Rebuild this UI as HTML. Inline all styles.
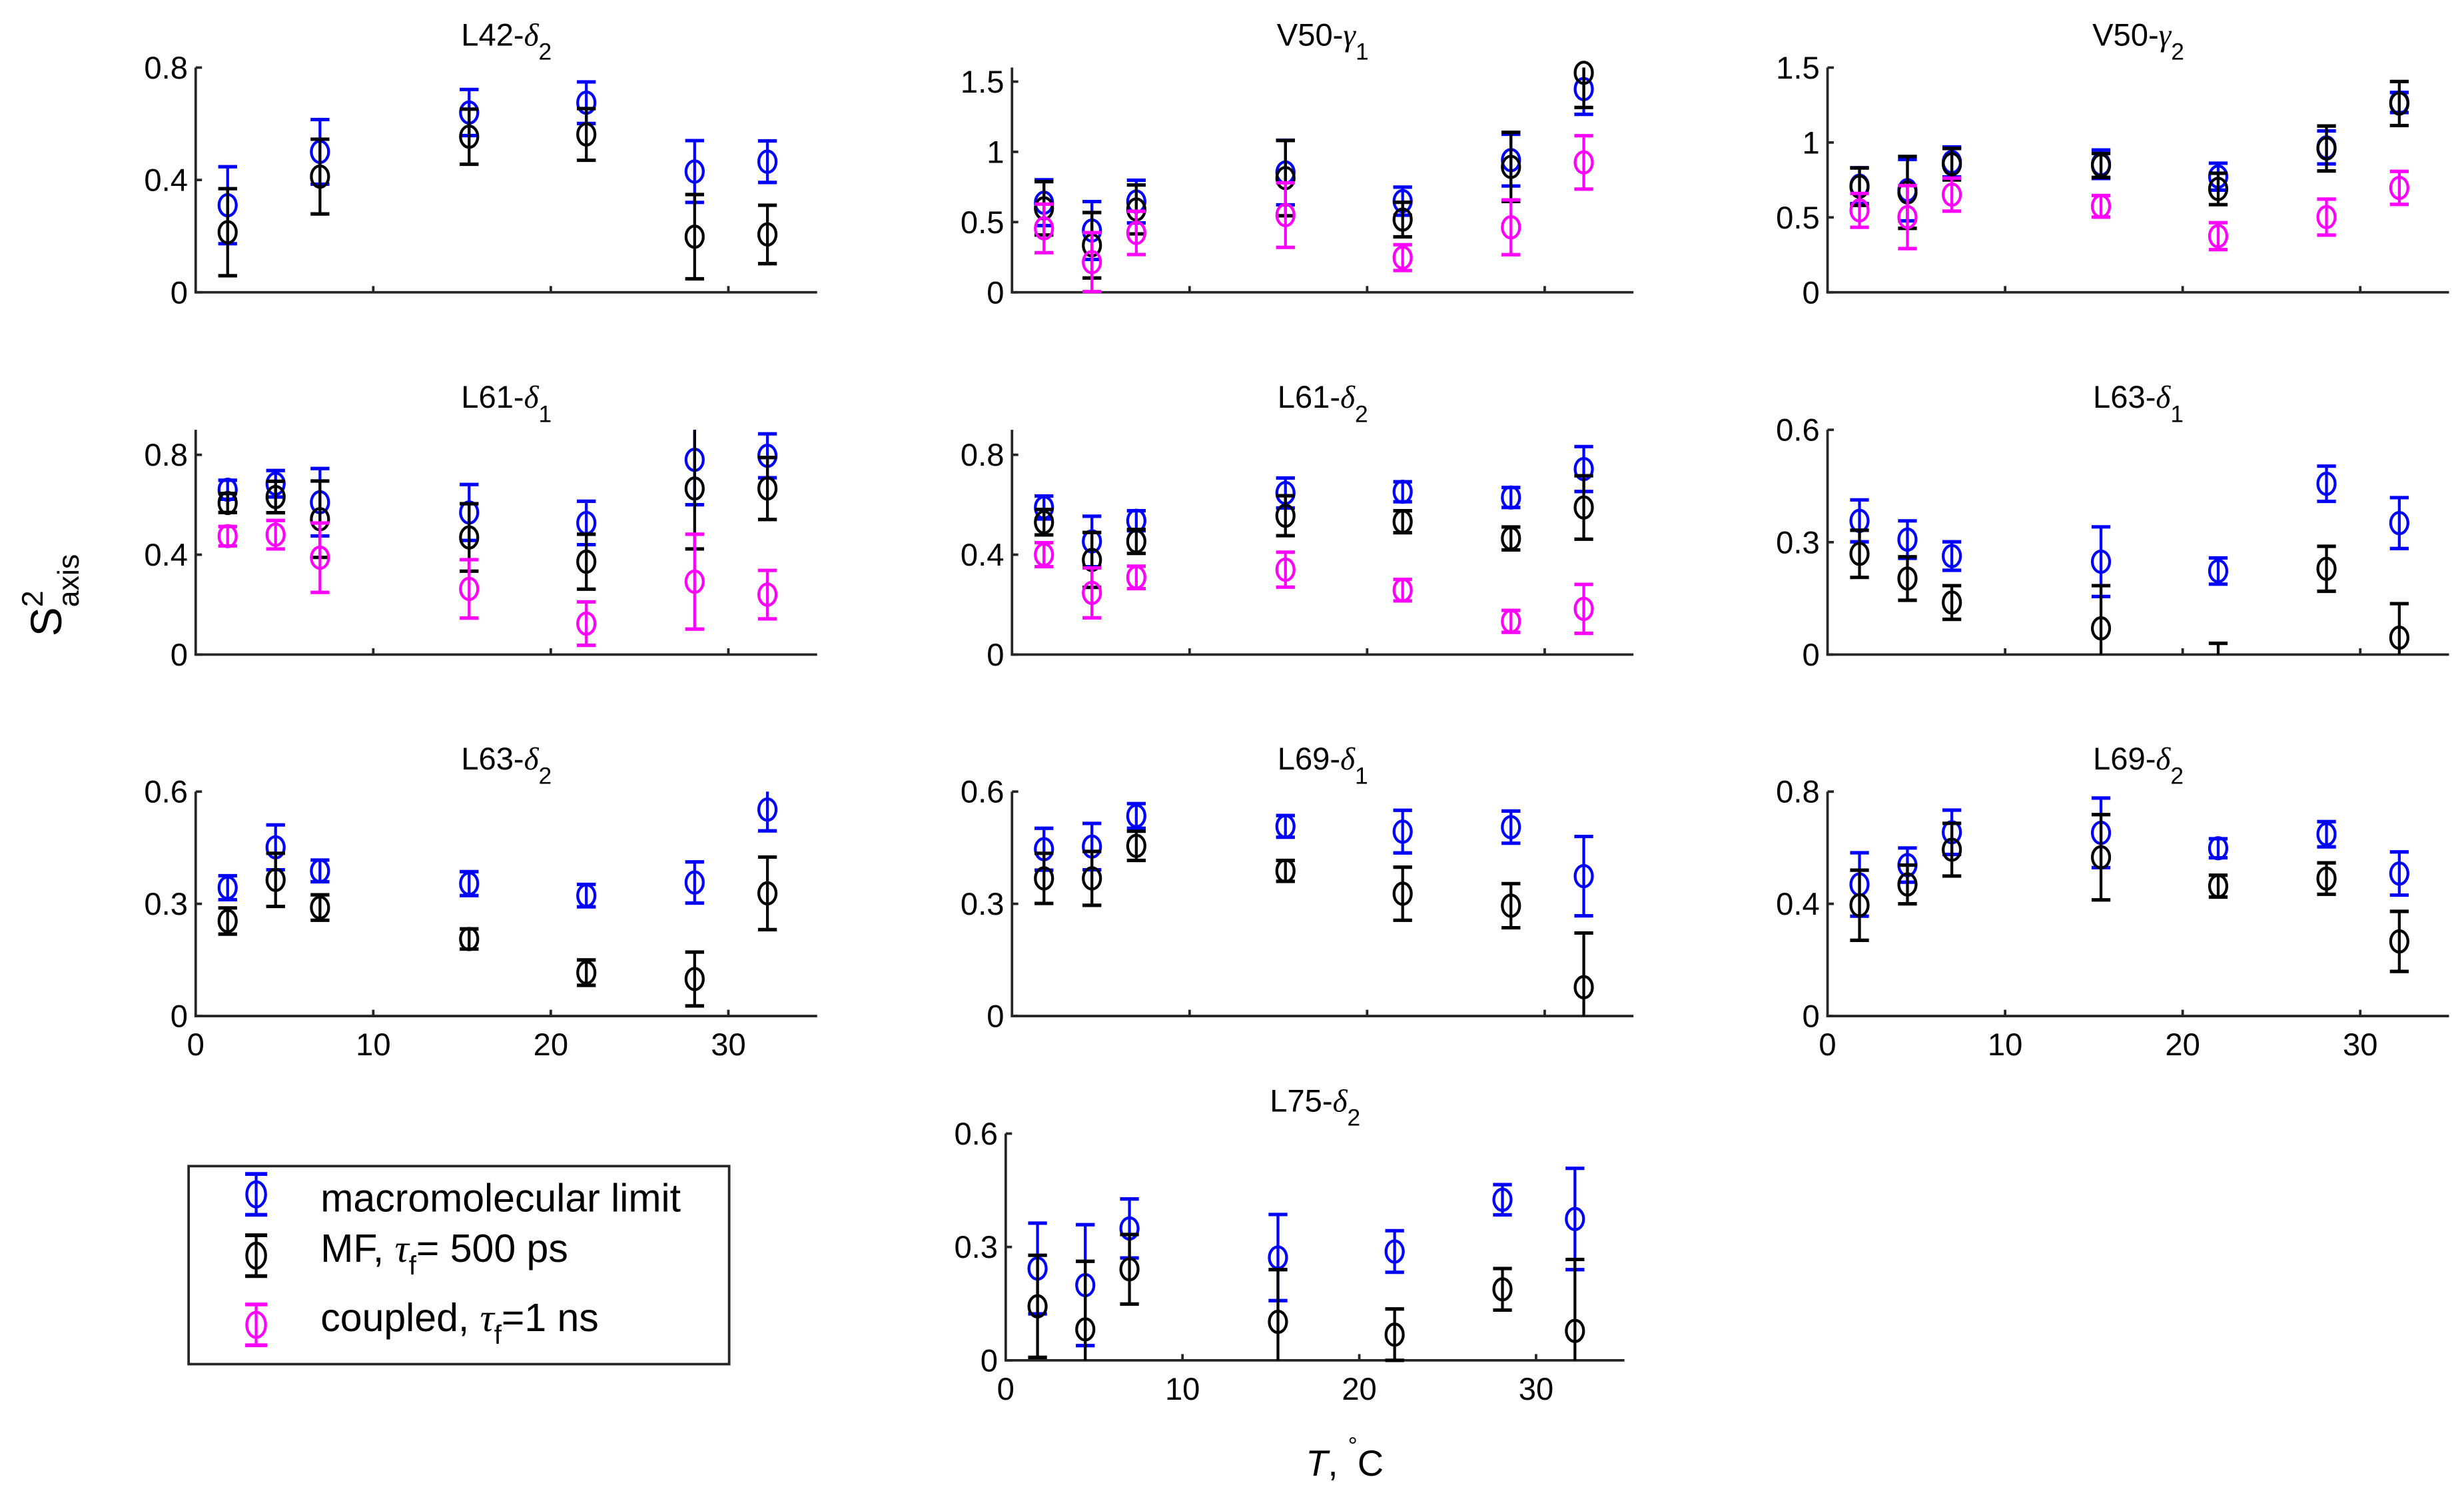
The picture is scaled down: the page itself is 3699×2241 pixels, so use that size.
<!DOCTYPE html>
<html>
<head>
<meta charset="utf-8">
<style>
  html,body{margin:0;padding:0;background:#fff;}
  svg{display:block;}
  text{font-family:"Liberation Sans",Arial,sans-serif;fill:#000;}
</style>
</head>
<body>
<svg id="fig" xmlns="http://www.w3.org/2000/svg" width="3699" height="2241" viewBox="0 0 1568 950">
  <rect x="0" y="0" width="1568" height="950" fill="#fff"/>
  <g id="panels"></g>

  <text transform="translate(39,405) rotate(-90)" font-size="28">S<tspan font-size="19" dy="-12">2</tspan><tspan font-size="19" dx="-10.6" dy="23">axis</tspan></text>

  <text x="831" y="939" font-size="23"><tspan font-style="italic">T</tspan>, <tspan font-size="15" dy="-14">°</tspan><tspan dy="14">C</tspan></text>

  <g id="legend">
    <rect x="120" y="742" width="344" height="126" fill="#fff" stroke="#262626" stroke-width="1.6"/>
    <g id="legendMarks"></g>
    <text x="204" y="771" font-size="25">macromolecular limit</text>
    <text x="204" y="803" font-size="25">MF, <tspan font-style="italic" font-family="Liberation Serif">τ</tspan><tspan font-size="17" dy="8">f</tspan><tspan dy="-8">= 500 ps</tspan></text>
    <text x="204" y="847" font-size="25">coupled, <tspan font-style="italic" font-family="Liberation Serif">τ</tspan><tspan font-size="17" dy="8">f</tspan><tspan dy="-8">=1 ns</tspan></text>
  </g>
</svg>
<script>
// ---------- data ----------
const temps = [1.8, 4.5, 7.0, 15.4, 22.0, 28.1, 32.2];
const xTicks = [10, 20, 30];
const xTickLabels = ["0", "10", "20", "30"];

const L42_d2_blue = [0.31, null, 0.50, 0.64, 0.675, 0.43, 0.465];
const L42_d2_blueErr = [0.137, null, 0.115, 0.082, 0.074, 0.11, 0.074];
const L42_d2_black = [0.214, null, 0.412, 0.554, 0.562, 0.198, 0.206];
const L42_d2_blackErr = [0.155, null, 0.133, 0.098, 0.092, 0.15, 0.104];

const V50_g1_blue = [0.638, 0.44, 0.646, 0.853, 0.649, 0.941, 1.447];
const V50_g1_blueErr = [0.163, 0.206, 0.152, 0.23, 0.1, 0.184, 0.18];
const V50_g1_black = [0.598, 0.335, 0.59, 0.813, 0.518, 0.893, 1.563];
const V50_g1_blackErr = [0.19, 0.233, 0.174, 0.268, 0.123, 0.246, 0.247];
const V50_g1_mag = [0.455, 0.215, 0.423, 0.55, 0.247, 0.463, 0.925];
const V50_g1_magErr = [0.173, 0.21, 0.154, 0.23, 0.092, 0.195, 0.19];

const V50_g2_blue = [0.712, 0.682, 0.87, 0.855, 0.772, 0.967, 1.267];
const V50_g2_blueErr = [0.12, 0.205, 0.1, 0.095, 0.09, 0.11, 0.067];
const V50_g2_black = [0.705, 0.667, 0.855, 0.847, 0.69, 0.96, 1.26];
const V50_g2_blackErr = [0.125, 0.24, 0.105, 0.08, 0.105, 0.15, 0.147];
const V50_g2_mag = [0.547, 0.502, 0.652, 0.574, 0.375, 0.502, 0.697];
const V50_g2_magErr = [0.113, 0.21, 0.11, 0.072, 0.09, 0.12, 0.11];

const L61_d1_blue = [0.66, 0.684, 0.61, 0.569, 0.527, 0.78, 0.796];
const L61_d1_blueErr = [0.038, 0.053, 0.135, 0.112, 0.087, 0.18, 0.088];
const L61_d1_black = [0.607, 0.631, 0.542, 0.469, 0.372, 0.665, 0.665];
const L61_d1_blackErr = [0.038, 0.063, 0.153, 0.135, 0.11, 0.242, 0.124];
const L61_d1_mag = [0.474, 0.48, 0.388, 0.263, 0.124, 0.292, 0.24];
const L61_d1_magErr = [0.039, 0.057, 0.139, 0.117, 0.087, 0.19, 0.097];

const L61_d2_blue = [0.589, 0.453, 0.536, 0.647, 0.652, 0.629, 0.743];
const L61_d2_blueErr = [0.046, 0.101, 0.04, 0.06, 0.04, 0.04, 0.09];
const L61_d2_black = [0.53, 0.379, 0.453, 0.556, 0.532, 0.465, 0.589];
const L61_d2_blackErr = [0.051, 0.11, 0.048, 0.08, 0.044, 0.046, 0.127];
const L61_d2_mag = [0.4, 0.247, 0.309, 0.34, 0.258, 0.133, 0.183];
const L61_d2_magErr = [0.048, 0.1, 0.045, 0.07, 0.043, 0.044, 0.098];

const L63_d1_blue = [0.357, 0.307, 0.263, 0.248, 0.223, 0.456, 0.351];
const L63_d1_blueErr = [0.056, 0.05, 0.038, 0.093, 0.035, 0.047, 0.068];
const L63_d1_black = [0.269, 0.203, 0.139, 0.07, -0.03, 0.229, 0.045];
const L63_d1_blackErr = [0.063, 0.058, 0.045, 0.114, 0.06, 0.06, 0.091];

const L63_d2_blue = [0.343, 0.451, 0.388, 0.354, 0.322, 0.357, 0.552];
const L63_d2_blueErr = [0.032, 0.06, 0.029, 0.032, 0.03, 0.055, 0.057];
const L63_d2_black = [0.254, 0.364, 0.29, 0.206, 0.116, 0.099, 0.328];
const L63_d2_blackErr = [0.035, 0.071, 0.034, 0.027, 0.034, 0.072, 0.097];

const L69_d1_blue = [0.446, 0.453, 0.535, 0.507, 0.493, 0.505, 0.374];
const L69_d1_blueErr = [0.056, 0.062, 0.033, 0.029, 0.057, 0.043, 0.106];
const L69_d1_black = [0.368, 0.368, 0.455, 0.388, 0.327, 0.295, 0.077];
const L69_d1_blackErr = [0.067, 0.072, 0.039, 0.028, 0.071, 0.059, 0.145];

const L69_d2_blue = [0.469, 0.538, 0.655, 0.653, 0.598, 0.648, 0.508];
const L69_d2_blueErr = [0.113, 0.061, 0.079, 0.124, 0.034, 0.045, 0.077];
const L69_d2_black = [0.395, 0.469, 0.593, 0.566, 0.463, 0.49, 0.266];
const L69_d2_blackErr = [0.125, 0.069, 0.094, 0.152, 0.039, 0.056, 0.107];

const L75_d2_blue = [0.243, 0.199, 0.349, 0.272, 0.288, 0.425, 0.374];
const L75_d2_blueErr = [0.12, 0.16, 0.078, 0.114, 0.055, 0.04, 0.134];
const L75_d2_black = [0.143, 0.082, 0.241, 0.102, 0.068, 0.188, 0.078];
const L75_d2_blackErr = [0.135, 0.18, 0.092, 0.138, 0.068, 0.055, 0.189];

const yTicks_08 = [0, 0.4, 0.8];
const yTicks_15 = [0, 0.5, 1, 1.5];
const yTicks_06 = [0, 0.3, 0.6];
const yTickLabels_08 = ["0", "0.4", "0.8"];
const yTickLabels_15 = ["0", "0.5", "1", "1.5"];
const yTickLabels_06 = ["0", "0.3", "0.6"];

// ---------- layout (pixels, not data) ----------
const BLUE = "#0000ff", BLACK = "#000000", MAG = "#ff00ff";
const colX0 = [124.5, 644, 1163];
const rowY = [[43, 186], [273.5, 416.5], [503.7, 646.5], [721.3, 865.6]];
const XMAX = 35, PXU = 11.3;

const panels = [
  {name:"l42-delta2", res:"L42-", g:"δ", sub:"2", col:0, row:0, ymax:0.8, yt:yTicks_08, yl:yTickLabels_08, xl:false,
   series:[[L42_d2_blue,L42_d2_blueErr,BLUE,"macromolecular"],[L42_d2_black,L42_d2_blackErr,BLACK,"mf"]]},
  {name:"v50-gamma1", res:"V50-", g:"γ", sub:"1", col:1, row:0, ymax:1.6, yt:yTicks_15, yl:yTickLabels_15, xl:false,
   series:[[V50_g1_blue,V50_g1_blueErr,BLUE,"macromolecular"],[V50_g1_black,V50_g1_blackErr,BLACK,"mf"],[V50_g1_mag,V50_g1_magErr,MAG,"coupled"]]},
  {name:"v50-gamma2", res:"V50-", g:"γ", sub:"2", col:2, row:0, ymax:1.5, yt:yTicks_15, yl:yTickLabels_15, xl:false,
   series:[[V50_g2_blue,V50_g2_blueErr,BLUE,"macromolecular"],[V50_g2_black,V50_g2_blackErr,BLACK,"mf"],[V50_g2_mag,V50_g2_magErr,MAG,"coupled"]]},
  {name:"l61-delta1", res:"L61-", g:"δ", sub:"1", col:0, row:1, ymax:0.9, yt:yTicks_08, yl:yTickLabels_08, xl:false,
   series:[[L61_d1_blue,L61_d1_blueErr,BLUE,"macromolecular"],[L61_d1_black,L61_d1_blackErr,BLACK,"mf"],[L61_d1_mag,L61_d1_magErr,MAG,"coupled"]]},
  {name:"l61-delta2", res:"L61-", g:"δ", sub:"2", col:1, row:1, ymax:0.9, yt:yTicks_08, yl:yTickLabels_08, xl:false,
   series:[[L61_d2_blue,L61_d2_blueErr,BLUE,"macromolecular"],[L61_d2_black,L61_d2_blackErr,BLACK,"mf"],[L61_d2_mag,L61_d2_magErr,MAG,"coupled"]]},
  {name:"l63-delta1", res:"L63-", g:"δ", sub:"1", col:2, row:1, ymax:0.6, yt:yTicks_06, yl:yTickLabels_06, xl:false,
   series:[[L63_d1_blue,L63_d1_blueErr,BLUE,"macromolecular"],[L63_d1_black,L63_d1_blackErr,BLACK,"mf"]]},
  {name:"l63-delta2", res:"L63-", g:"δ", sub:"2", col:0, row:2, ymax:0.6, yt:yTicks_06, yl:yTickLabels_06, xl:true,
   series:[[L63_d2_blue,L63_d2_blueErr,BLUE,"macromolecular"],[L63_d2_black,L63_d2_blackErr,BLACK,"mf"]]},
  {name:"l69-delta1", res:"L69-", g:"δ", sub:"1", col:1, row:2, ymax:0.6, yt:yTicks_06, yl:yTickLabels_06, xl:false,
   series:[[L69_d1_blue,L69_d1_blueErr,BLUE,"macromolecular"],[L69_d1_black,L69_d1_blackErr,BLACK,"mf"]]},
  {name:"l69-delta2", res:"L69-", g:"δ", sub:"2", col:2, row:2, ymax:0.8, yt:yTicks_08, yl:yTickLabels_08, xl:true,
   series:[[L69_d2_blue,L69_d2_blueErr,BLUE,"macromolecular"],[L69_d2_black,L69_d2_blackErr,BLACK,"mf"]]},
  {name:"l75-delta2", res:"L75-", g:"δ", sub:"2", col:1, row:3, ymax:0.6, yt:yTicks_06, yl:yTickLabels_06, xl:true, x0:640, pxu:11.25,
   series:[[L75_d2_blue,L75_d2_blueErr,BLUE,"macromolecular"],[L75_d2_black,L75_d2_blackErr,BLACK,"mf"]]}
];

const NS = "http://www.w3.org/2000/svg";
function mk(tag, attrs, parent){
  const e = document.createElementNS(NS, tag);
  for (const k in attrs) e.setAttribute(k, attrs[k]);
  parent.appendChild(e);
  return e;
}
const root = document.getElementById("panels");
const AX = "#262626";

panels.forEach(p => {
  const x0 = p.x0 !== undefined ? p.x0 : colX0[p.col];
  const pxu = p.pxu || PXU;
  const [yTop, yBot] = rowY[p.row];
  const xs = v => x0 + v * pxu;
  const ys = v => yBot - (v / p.ymax) * (yBot - yTop);
  const xEnd = xs(XMAX);

  const g = mk("g", {}, root);
  
  

  // title
  const t = mk("text", {x: x0 + (xEnd - x0) / 2, y: yTop - 14, "font-size": 20, "text-anchor": "middle"}, g);
  
  
  const s1 = mk("tspan", {}, t); s1.textContent = p.res;
  const s2 = mk("tspan", {"font-style": "italic", "font-family": "Liberation Serif"}, t); s2.textContent = p.g;
  const s3 = mk("tspan", {"font-size": 15, dy: 9}, t); s3.textContent = p.sub;

  // axes
  const yAx = mk("line", {x1: x0, y1: yTop, x2: x0, y2: yBot, stroke: AX, "stroke-width": 1.6}, g);
  
  
  const xAx = mk("line", {x1: x0 - 0.8, y1: yBot, x2: xEnd, y2: yBot, stroke: AX, "stroke-width": 1.6}, g);
  
  

  // y ticks
  p.yt.forEach((v, i) => {
    const yy = ys(v);
    const tk = mk("line", {x1: x0, y1: yy, x2: x0 + 4, y2: yy, stroke: AX, "stroke-width": 1.6}, g);
    
    
    const lb = mk("text", {x: x0 - 5, y: yy + 7, "font-size": 20, "text-anchor": "end", fill: "#262626"}, g);
    
    
    lb.textContent = p.yl[i];
  });
  // x ticks
  xTicks.forEach(v => {
    const xx = xs(v);
    const tk = mk("line", {x1: xx, y1: yBot, x2: xx, y2: yBot - 4, stroke: AX, "stroke-width": 1.6}, g);
    
    
  });
  if (p.xl) {
    [0].concat(xTicks).forEach((v, i) => {
      const lb = mk("text", {x: xs(v), y: yBot + 25, "font-size": 20, "text-anchor": "middle", fill: "#262626"}, g);
      
      
      lb.textContent = xTickLabels[i];
    });
  }

  // series
  p.series.forEach(([vals, errs, col, sname]) => {
    const sg = mk("g", {stroke: col, fill: "none", "stroke-width": 1.8}, g);
    
    
    vals.forEach((v, i) => {
      if (v === null) return;
      const e = errs[i];
      const cx = xs(temps[i]);
      const lo = Math.max(0, v - e), hi = Math.min(p.ymax, v + e);
      const yl = ys(lo), yh = ys(hi);
      const eb = mk("path", {d: "M" + cx + "," + yl + "L" + cx + "," + yh}, sg);
      
      
      if (v - e >= 0) {
        const c1 = mk("path", {d: "M" + (cx - 6) + "," + yl + "L" + (cx + 6) + "," + yl, "stroke-width": 2.2}, sg);
        
        
      }
      if (v + e <= p.ymax) {
        const c2 = mk("path", {d: "M" + (cx - 6) + "," + yh + "L" + (cx + 6) + "," + yh, "stroke-width": 2.2}, sg);
        
        
      }
      if (v >= 0 && v <= p.ymax) {
        const m = mk("ellipse", {cx: cx, cy: ys(v), rx: 5.5, ry: 6.8}, sg);
        
        
      }
    });
  });
});

// legend markers
const lm = document.getElementById("legendMarks");
[[BLUE, 760], [BLACK, 799], [MAG, 843]].forEach(([col, cy]) => {
  const g = mk("g", {stroke: col, fill: "none", "stroke-width": 1.8}, lm);
  
  
  mk("path", {d: "M163," + (cy - 13) + "L163," + (cy + 13)}, g);
  mk("path", {d: "M156," + (cy - 13) + "L170," + (cy - 13), "stroke-width": 2.4}, g);
  mk("path", {d: "M156," + (cy + 13) + "L170," + (cy + 13), "stroke-width": 2.4}, g);
  mk("ellipse", {cx: 163, cy: cy, rx: 6, ry: 8}, g);
});
</script>
</body>
</html>
